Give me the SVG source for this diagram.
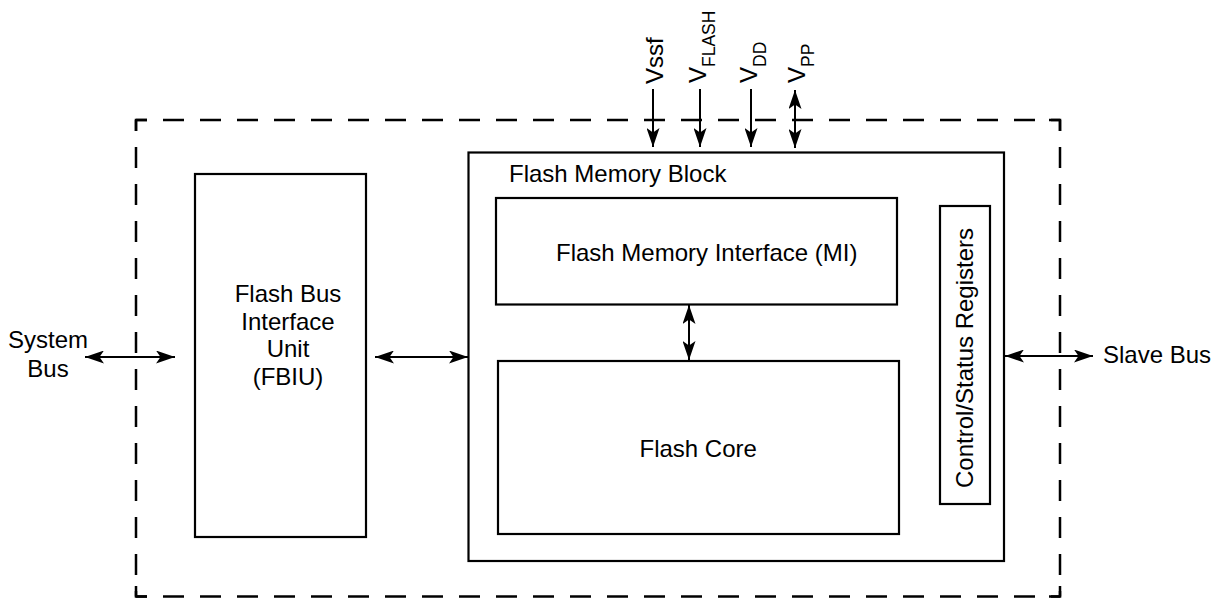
<svg xmlns="http://www.w3.org/2000/svg" width="1217" height="598" viewBox="0 0 1217 598">
<style>
  .box { fill: none; stroke: #000; stroke-width: 2.2; }
  .dash { fill: none; stroke: #000; stroke-width: 2.5; stroke-dasharray: 21 16; stroke-dashoffset: 10; }
  .corner { fill: none; stroke: #000; stroke-width: 2.5; }
  .conn { fill: none; stroke: #000; stroke-width: 2; }
  .one { marker-end: url(#ah); }
  .two { marker-start: url(#ah); marker-end: url(#ah); }
  text { font-family: "Liberation Sans", Arial, sans-serif; font-size: 24px; fill: #000; }
  .sub { font-size: 17.5px; }
</style>
<defs>
  <marker id="ah" viewBox="0 0 19 13" refX="19" refY="6.5" markerWidth="19" markerHeight="13" markerUnits="userSpaceOnUse" orient="auto-start-reverse">
    <path d="M0,0 L19,6.5 L0,13 L4.5,6.5 Z" fill="#000"/>
  </marker>
</defs>
<rect width="1217" height="598" fill="#fff"/>

<g id="outer-boundary">
  <line class="dash" x1="136" y1="120" x2="1060" y2="120"/>
  <line class="dash" x1="136" y1="596.5" x2="1060" y2="596.5"/>
  <line class="dash" x1="136" y1="120" x2="136" y2="596.5"/>
  <line class="dash" x1="1060" y1="120" x2="1060" y2="596.5"/>
  <path class="corner" d="M136,131 V120 H147 M1049,120 H1060 V131 M136,586 V596.5 H147 M1049,596.5 H1060 V586"/>
</g>

<g id="fbiu">
  <rect class="box" x="195" y="174" width="171" height="363"/>
  <text x="288" y="301.7" text-anchor="middle">Flash Bus</text>
  <text x="288" y="329.5" text-anchor="middle">Interface</text>
  <text x="288" y="357.3" text-anchor="middle">Unit</text>
  <text x="288" y="385" text-anchor="middle">(FBIU)</text>
</g>

<g id="flash-memory-block">
  <rect class="box" x="468.5" y="152.5" width="535.5" height="408.5"/>
  <text x="509" y="182">Flash Memory Block</text>
</g>

<g id="memory-interface">
  <rect class="box" x="496" y="198" width="401" height="106.5"/>
  <text x="556" y="261">Flash Memory Interface (MI)</text>
</g>

<g id="flash-core">
  <rect class="box" x="498" y="361" width="401" height="173"/>
  <text x="639.5" y="457">Flash Core</text>
</g>

<g id="control-status-registers">
  <rect class="box" x="940" y="206" width="50" height="298"/>
  <text transform="translate(973,358) rotate(-90)" text-anchor="middle">Control/Status Registers</text>
</g>

<g id="system-bus">
  <text x="48" y="348.3" text-anchor="middle">System</text>
  <text x="48" y="376.7" text-anchor="middle">Bus</text>
</g>

<g id="slave-bus">
  <text x="1103" y="363">Slave Bus</text>
</g>

<g id="supply-labels">
  <text transform="translate(663,84) rotate(-90)">Vssf</text>
  <text transform="translate(706,83) rotate(-90)">V<tspan class="sub" dy="9">FLASH</tspan></text>
  <text transform="translate(757,83) rotate(-90)">V<tspan class="sub" dy="9">DD</tspan></text>
  <text transform="translate(805,83) rotate(-90)">V<tspan class="sub" dy="9">PP</tspan></text>
</g>

<g id="connectors">
  <line class="conn two" x1="85" y1="357" x2="175" y2="357"/>
  <line class="conn two" x1="375" y1="357" x2="468" y2="357"/>
  <line class="conn two" x1="689" y1="305" x2="689" y2="360"/>
  <line class="conn two" x1="1005" y1="356" x2="1093" y2="356"/>
  <line class="conn one" x1="653" y1="89" x2="653" y2="147"/>
  <line class="conn one" x1="700" y1="89" x2="700" y2="147"/>
  <line class="conn one" x1="751" y1="89" x2="751" y2="147"/>
  <line class="conn two" x1="795" y1="90" x2="795" y2="148"/>
</g>
</svg>
